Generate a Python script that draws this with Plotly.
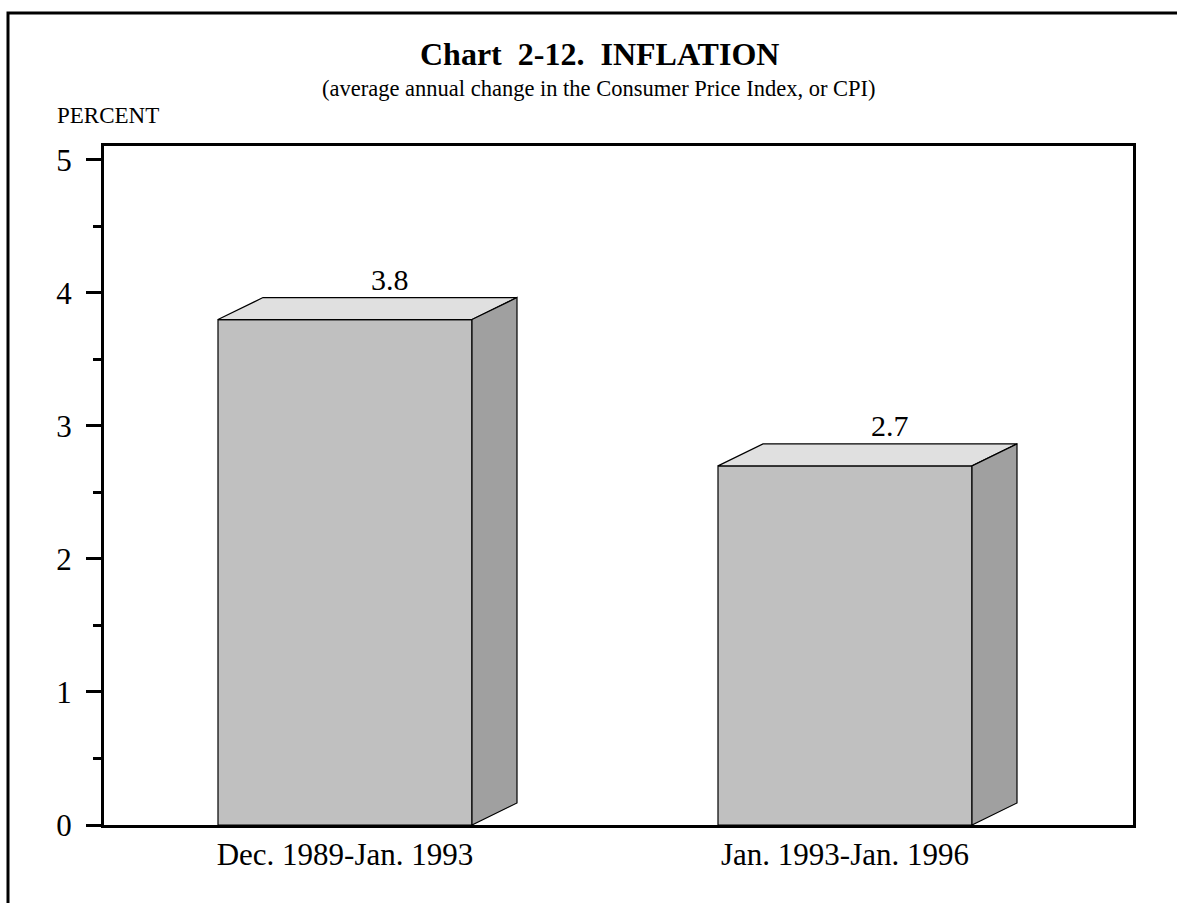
import plotly.graph_objects as go

categories = ["Dec. 1989-Jan. 1993", "Jan. 1993-Jan. 1996"]
values = [3.8, 2.7]
value_labels = ["3.8", "2.7"]
y_tickvals = [0, 1, 2, 3, 4, 5]
y_ticktext = ["0", "1", "2", "3", "4", "5"]

W, H = 1177, 903
L, R, T, B = 104, 44, 146, 78
pw, ph = W - L - R, H - T - B
x_range = [-0.482, 1.576]
y_range = [0, 5.105]
bar_w = 0.508
# depth offsets in data units (45 px right, 22 px up)
dx = 45 * (x_range[1] - x_range[0]) / pw
dy = 22 * (y_range[1] - y_range[0]) / ph

FONT = "Liberation Serif, Times New Roman, serif"
xs = list(range(len(categories)))

fig = go.Figure()
fig.add_trace(go.Bar(x=xs, y=values, width=bar_w,
                     marker=dict(color="#C0C0C0", line=dict(color="black", width=1.2)),
                     hoverinfo="skip"))
for i, v in zip(xs, values):
    xl, xr = i - bar_w / 2, i + bar_w / 2
    fig.add_trace(go.Scatter(x=[xl, xl + dx, xr + dx, xr, xl], y=[v, v + dy, v + dy, v, v],
                             fill="toself", fillcolor="#E0E0E0", mode="lines",
                             line=dict(color="black", width=1.2), hoverinfo="skip"))
    fig.add_trace(go.Scatter(x=[xr, xr + dx, xr + dx, xr, xr], y=[0, dy, v + dy, v, 0],
                             fill="toself", fillcolor="#A0A0A0", mode="lines",
                             line=dict(color="black", width=1.2), hoverinfo="skip"))

def py(p):
    return (H - B - p) / ph

def px(p):
    return (p - L) / pw

annotations = []
for i, v, t in zip(xs, values, value_labels):
    annotations.append(dict(x=i + dx, y=v + dy, xref="x", yref="y", text=t, showarrow=False,
                            yanchor="bottom", yshift=0, font=dict(family=FONT, size=30, color="black")))
annotations += [
    dict(x=px(599), y=py(54), xref="paper", yref="paper", text="<b>Chart\u00a0\u00a02-12.\u00a0\u00a0INFLATION</b>",
         showarrow=False, xanchor="center", yanchor="middle", font=dict(family=FONT, size=32, color="black")),
    dict(x=px(599), y=py(88), xref="paper", yref="paper", text="(average annual change in the Consumer Price Index, or CPI)",
         showarrow=False, xanchor="center", yanchor="middle", font=dict(family=FONT, size=22.5, color="black")),
    dict(x=px(55), y=py(116), xref="paper", yref="paper", text="PERCENT",
         showarrow=False, xanchor="left", yanchor="middle", font=dict(family=FONT, size=23, color="black")),
]

fig.update_layout(
    width=W, height=H, margin=dict(l=L, r=R, t=T, b=B, pad=0),
    paper_bgcolor="white", plot_bgcolor="white", showlegend=False,
    annotations=annotations,
    shapes=[dict(type="rect", xref="paper", yref="paper", x0=px(8), y0=py(13), x1=1.2, y1=-0.3,
                 line=dict(color="black", width=3), fillcolor="rgba(0,0,0,0)", layer="above")],
)
fig.update_xaxes(range=x_range, tickvals=xs, ticktext=categories, ticks="", showgrid=False,
                 zeroline=False, showline=True, mirror=True, linecolor="black", linewidth=3,
                 tickfont=dict(family=FONT, size=31, color="black"), fixedrange=True)
fig.update_yaxes(range=y_range, tickvals=y_tickvals, ticktext=y_ticktext, ticks="outside",
                 ticklen=15, tickwidth=3, tickcolor="black", showgrid=False, zeroline=False,
                 showline=True, mirror=True, linecolor="black", linewidth=3, ticklabelstandoff=8,
                 minor=dict(dtick=0.5, tick0=0, ticks="outside", ticklen=8, tickwidth=3, tickcolor="black"),
                 tickfont=dict(family=FONT, size=31, color="black"), fixedrange=True)

fig.write_html("out.html", config={"displayModeBar": False},
               post_script="document.body.style.margin='0';document.body.style.overflow='hidden';")
